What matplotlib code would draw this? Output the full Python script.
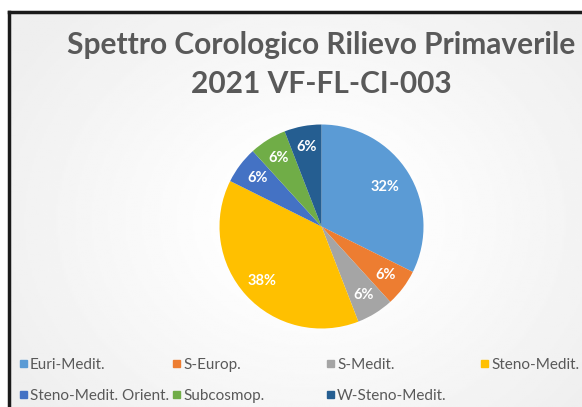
import numpy as np
import matplotlib.pyplot as plt
from matplotlib.patches import Rectangle

# chorological spectrum (species counts)
categories = ['Euri-Medit.', 'S-Europ.', 'S-Medit.', 'Steno-Medit.',
              'Steno-Medit. Orient.', 'Subcosmop.', 'W-Steno-Medit.']
counts = [11, 2, 2, 13, 2, 2, 2]
colors = ['#5B9BD5', '#ED7D31', '#A5A5A5', '#FFC000',
          '#4472C4', '#70AD47', '#255E91']

W, H = 582, 407
fig = plt.figure(figsize=(W / 100, H / 100), dpi=100)
fig.patch.set_facecolor('white')

# chart area background: light grey with a soft white glow round the pie
# (axes runs past the right/bottom edge, the chart is cropped there)
bg = fig.add_axes([9 / W, -20 / H, 1, 1 - 12 / H + 20 / H])
yy, xx = np.mgrid[0:200, 0:290]
cx, cy = 150, 100
d = np.sqrt(((xx - cx) / 150.0) ** 2 + ((yy - cy) / 120.0) ** 2)
shade = np.clip(0.995 - 0.07 * np.clip(d - 0.3, 0, None), 0.935, 0.995)
bg.imshow(shade, cmap='gray', vmin=0, vmax=1, aspect='auto',
          extent=[0, 1, 0, 1], origin='upper')
bg.set_xlim(0, 1)
bg.set_ylim(0, 1)
bg.set_xticks([])
bg.set_yticks([])
for side in ['right', 'bottom']:
    bg.spines[side].set_visible(False)
for side in ['left', 'top']:
    bg.spines[side].set_linewidth(2.5)
    bg.spines[side].set_color('#1a1a1a')

# title
title_kw = dict(ha='center', va='baseline', fontsize=21.5, fontweight='bold',
                family='Lato', color='#595959')
fig.text(321 / W, 1 - 54 / H, 'Spettro Corologico Rilievo Primaverile', **title_kw)
fig.text(321 / W, 1 - 93 / H, '2021 VF-FL-CI-003', **title_kw)

# pie
r = 102
ax = fig.add_axes([(321.5 - r) / W, 1 - (226.5 + r) / H, 2 * r / W, 2 * r / H])
wedges, _, autotexts = ax.pie(
    counts, colors=colors, startangle=90, counterclock=False,
    autopct='%1.0f%%', pctdistance=0.79, radius=1.0,
    wedgeprops=dict(linewidth=0),
    textprops=dict(color='white', fontsize=10.5, fontweight='bold', family='Lato'))
# the big slice label sits a bit further in
x0, y0 = autotexts[0].get_position()
autotexts[0].set_position((x0 * 0.92, y0 * 0.92))
ax.set_xlim(-1, 1)
ax.set_ylim(-1, 1)
ax.set_aspect('equal')

# legend, Excel style: 4 equal columns
col_x = [20, 173, 327, 481]
row_base = [369, 400]
for i, (name, col) in enumerate(zip(categories, colors)):
    x = col_x[i % 4]
    yb = row_base[i // 4]
    fig.patches.append(Rectangle((x / W, 1 - (yb - 2) / H), 7 / W, 7 / H,
                                 transform=fig.transFigure, color=col))
    fig.text((x + 10) / W, 1 - yb / H, name, ha='left', va='baseline',
             fontsize=11, family='Lato', color='#595959')

fig.savefig('out.png', dpi=100)
